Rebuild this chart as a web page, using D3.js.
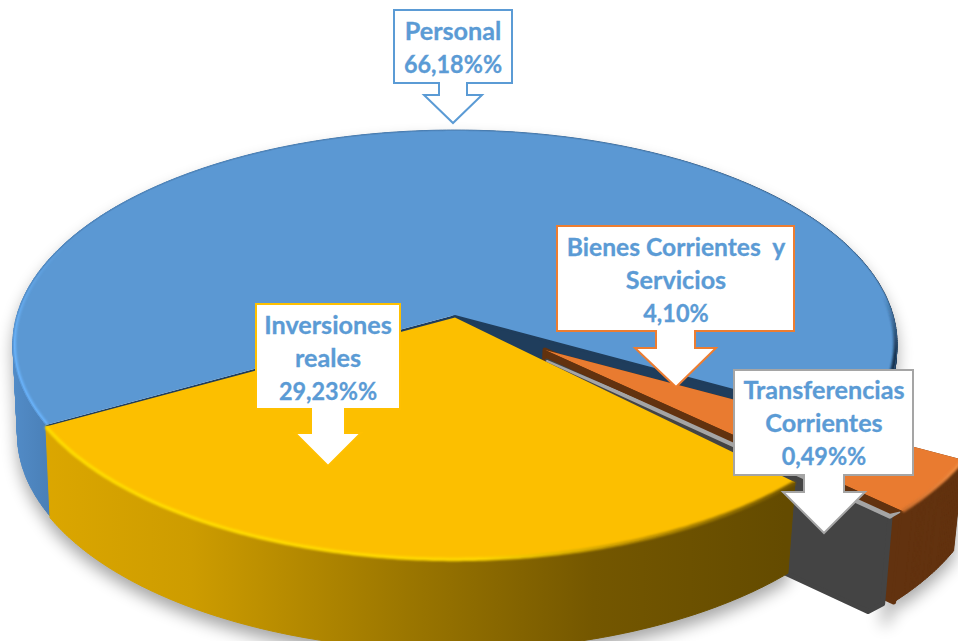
<!DOCTYPE html>
<html>
<head>
<meta charset="utf-8">
<script src="https://d3js.org/d3.v7.min.js"></script>
<style>
  html, body { margin: 0; padding: 0; background: #fff; overflow: hidden; }
  svg { display: block; }
  text { font-family: Lato, "Open Sans", sans-serif; font-weight: 700; }
</style>
</head>
<body>
<div id="chart"></div>
<script>
const F_WIDTH = 958;
const F_HEIGHT = 641;

// chart data
const CATEGORIES = ["Personal", "Bienes Corrientes y Servicios", "Transferencias Corrientes", "Inversiones reales"];
const VALUES = [66.18, 4.10, 0.49, 29.23];
const LABEL_LINES = [
  ["Personal", "66,18%%"],
  ["Bienes Corrientes\u00a0 y", "Servicios", "4,10%"],
  ["Transferencias", "Corrientes", "0,49%%"],
  ["Inversiones", "reales", "29,23%%"]
];

// colours
const TOP_COLORS = ["#5b98d3", "#e97b30", "#a5a5a5", "#fcbf00"];
const CUT_COLORS = ["#1f3d5c", "#62320f", "#444444", "#644b00"];
const BOX_COLORS = ["#5b9bd5", "#ed7d31", "#a5a5a5", "#ffc000"];

// perspective of the pie plane
const CX = 455, CY = 315, AX = 438, BY = 210, PERSP = 0.1355;
const DEPTH = 91, DEPTH_SCALE = 0.985, DEPTH_SHIFT = -2;
const START_ANGLE = 240.7 * Math.PI / 180;

// how far each slice is pulled out, [dx, dy], for the apex and for the rim
const EXPLODE = [
  {apex: [0, 0], rim: [0, 0], extra: 0},
  {apex: [90, 35], rim: [98, 36], extra: 0},
  {apex: [92, 46], rim: [95, 37], extra: 9},
  {apex: [0, 2.5], rim: [0, 1.5], extra: 0}
];

// callouts: box, stem, arrow
const CALLOUTS = [
  {x0: 394, x1: 512, y0: 10, y1: 83, s0: 439, s1: 467, wy: 95, w0: 424, w1: 482, tip: 123, cx: 453, base: [40, 73]},
  {x0: 557, x1: 794, y0: 226, y1: 331, s0: 656, s1: 695, wy: 348, w0: 635, w1: 716, tip: 387, cx: 676, base: [256, 289, 322]},
  {x0: 734, x1: 913, y0: 370, y1: 475, s0: 804, s1: 844, wy: 492, w0: 783, w1: 865, tip: 533, cx: 824, base: [399, 432, 465]},
  {x0: 256, x1: 400, y0: 304, y1: 409, s0: 311, s1: 345, wy: 433, w0: 295, w1: 361, tip: 466, cx: 328, base: [334, 367, 400]}
];

const FRAME = d3.select("#chart")
  .append("svg")
    .attr("width", F_WIDTH)
    .attr("height", F_HEIGHT);

const defs = FRAME.append("defs");

function blur(id, dev) {
  defs.append("filter")
      .attr("id", id)
      .attr("x", "-10%").attr("y", "-10%")
      .attr("width", "120%").attr("height", "130%")
    .append("feGaussianBlur")
      .attr("stdDeviation", dev);
}
blur("soft", 1.3);
blur("shadow", 8);

function gradient(id, stops) {
  const g = defs.append("linearGradient")
      .attr("id", id)
      .attr("gradientUnits", "userSpaceOnUse")
      .attr("x1", 0).attr("x2", F_WIDTH)
      .attr("y1", 0).attr("y2", 0);
  stops.forEach((s) => {
    g.append("stop").attr("offset", s[0]).attr("stop-color", s[1]);
  });
}
gradient("wallBlue", [[0, "#5590cd"], [0.05, "#4a80b8"], [0.6, "#3a6a9a"], [0.95, "#1f3d5c"]]);
gradient("wallYellow", [[0.04, "#dca700"], [0.2, "#cd9c00"], [0.42, "#9c7700"], [0.62, "#745700"], [0.82, "#644b00"]]);
gradient("rimYellow", [[0.04, "#ffdc00"], [0.5, "#ffd800"], [0.65, "#c89a00"], [0.82, "#7a5c00"]]);
gradient("rimOrange", [[0.9, "#b45c20"], [1, "#f08a40"]]);

// blue rim only shows low on the sides, so fade it in going down
function fade(id, color, y0, y1) {
  const g = defs.append("linearGradient")
      .attr("id", id)
      .attr("gradientUnits", "userSpaceOnUse")
      .attr("x1", 0).attr("x2", 0)
      .attr("y1", y0).attr("y2", y1);
  g.append("stop").attr("offset", 0).attr("stop-color", color).attr("stop-opacity", 0);
  g.append("stop").attr("offset", 1).attr("stop-color", color).attr("stop-opacity", 1);
}
fade("rimBlueLeft", "#6ab4fc", 240, 345);
fade("rimBlueRight", "#17324e", 295, 355);

// pie angles, order kept as in the data
const pie = d3.pie()
  .sort(null)
  .startAngle(START_ANGLE)
  .endAngle(START_ANGLE + 2 * Math.PI);
const arcs = pie(VALUES);

const line = d3.line();

// angle on the pie -> point on the page
function project(a, r) {
  const u = r * Math.sin(a);
  const v = -r * Math.cos(a);
  const w = 1 - PERSP * v;
  return [CX + AX * u / w, CY + BY * v / w];
}

function shift(p, d) {
  return [p[0] + d[0], p[1] + d[1]];
}

// same point on the underside of the slab
function lower(p, extra) {
  return [CX + (p[0] - CX) * DEPTH_SCALE + DEPTH_SHIFT, p[1] + DEPTH + (extra || 0)];
}

const slices = arcs.map((d, i) => {
  const step = 0.01;
  const angles = d3.range(d.startAngle, d.endAngle, step).concat([d.endAngle]);
  const rim = angles.map((a) => shift(project(a, 1), EXPLODE[i].rim));
  const apex = shift([CX, CY], EXPLODE[i].apex);
  return {i: i, rim: rim, apex: apex, extra: EXPLODE[i].extra};
});

// swept side of the slab, one quad per rim segment, all wound the same way
function outerWall(s) {
  let path = "";
  for (let k = 0; k < s.rim.length - 1; k++) {
    const a = s.rim[k], b = s.rim[k + 1];
    const quad = [a, b, lower(b, s.extra), lower(a, s.extra)];
    if (d3.polygonArea(quad) < 0) quad.reverse();
    path += line(quad) + "Z";
  }
  return path;
}
function cutWall(s, p) {
  return line([s.apex, p, lower(p, s.extra), lower(s.apex, s.extra)]) + "Z";
}
function topFace(s) {
  return line([s.apex].concat(s.rim)) + "Z";
}
function rimLine(s) {
  return line(s.rim);
}

// shadow on the ground
FRAME.append("g")
    .attr("filter", "url(#shadow)")
    .attr("opacity", 0.35)
    .attr("transform", "translate(0,9)")
  .selectAll("path")
  .data(slices)
  .enter()
  .append("path")
    .attr("d", outerWall)
    .attr("fill", "#000");

const PIE = FRAME.append("g");

function drawSlice(i, wallFill, rimStroke, hasCuts) {
  const s = slices[i];
  const first = s.rim[0];
  const last = s.rim[s.rim.length - 1];

  if (hasCuts) {
    PIE.append("path").attr("d", cutWall(s, first)).attr("fill", CUT_COLORS[i]);
    PIE.append("path").attr("d", cutWall(s, last))
        .attr("fill", CUT_COLORS[i])
        .attr("stroke", CUT_COLORS[i])
        .attr("stroke-width", 5)
        .attr("stroke-linejoin", "round");
  }
  PIE.append("path").attr("d", outerWall(s))
      .attr("fill", wallFill)
      .attr("stroke", wallFill)
      .attr("stroke-width", 1)
      .attr("stroke-linejoin", "round");
  PIE.append("path").attr("d", topFace(s)).attr("fill", TOP_COLORS[i]);
  if (rimStroke) {
    PIE.append("path").attr("d", rimLine(s))
        .attr("fill", "none")
        .attr("stroke", rimStroke)
        .attr("stroke-width", 3.5)
        .attr("filter", "url(#soft)");
  }
}

drawSlice(0, "url(#wallBlue)", null, true);

// blue rim: clipped to the top face, light on the left and dark on the right
defs.append("clipPath").attr("id", "blueTop")
  .append("path").attr("d", topFace(slices[0]));
const blueRim = PIE.append("g").attr("clip-path", "url(#blueTop)");
blueRim.append("path")
    .attr("d", line(slices[0].rim.filter((p) => p[0] < CX)))
    .attr("fill", "none")
    .attr("stroke", "url(#rimBlueLeft)")
    .attr("stroke-width", 6)
    .attr("filter", "url(#soft)");
blueRim.append("path")
    .attr("d", line(slices[0].rim.filter((p) => p[0] > CX)))
    .attr("fill", "none")
    .attr("stroke", "url(#rimBlueRight)")
    .attr("stroke-width", 7)
    .attr("filter", "url(#soft)");
blueRim.append("path")
    .attr("d", rimLine(slices[0]))
    .attr("fill", "none")
    .attr("stroke", "#2f4f70")
    .attr("stroke-opacity", 0.22)
    .attr("stroke-width", 2);

drawSlice(1, CUT_COLORS[1], "url(#rimOrange)", true);

// grey slice: only its cut face and top show, and the low corner is chamfered
const grey = slices[2];
const greyLast = grey.rim[grey.rim.length - 1];
const greyLow = lower(greyLast, grey.extra);
const greyLowApex = lower(grey.apex, grey.extra);
const lerp = (a, b, t) => [a[0] + (b[0] - a[0]) * t, a[1] + (b[1] - a[1]) * t];
PIE.append("path")
    .attr("d", line([grey.apex, greyLast, lerp(greyLow, greyLast, 0.14), lerp(greyLow, greyLowApex, 0.04), greyLowApex]) + "Z")
    .attr("fill", CUT_COLORS[2])
    .attr("stroke", CUT_COLORS[2])
    .attr("stroke-width", 5)
    .attr("stroke-linejoin", "round");
PIE.append("path")
    .attr("d", topFace(grey))
    .attr("fill", TOP_COLORS[2])
    .attr("stroke", TOP_COLORS[2])
    .attr("stroke-width", 2)
    .attr("stroke-linejoin", "round");

// the orange cut face hides most of the grey top, leaving a thin line
const orange = slices[1];
const orangeLast = orange.rim[orange.rim.length - 1];
PIE.append("path")
    .attr("d", line([orange.apex, orangeLast, shift(greyLast, [0, -4]), shift(grey.apex, [0, -3])]) + "Z")
    .attr("fill", CUT_COLORS[1]);

drawSlice(3, "url(#wallYellow)", "url(#rimYellow)", false);

// callouts
const boxes = FRAME.append("g")
  .selectAll("g")
  .data(CALLOUTS)
  .enter()
  .append("g");

boxes.append("path")
    .attr("d", (c) => line([
      [c.x0, c.y0], [c.x1, c.y0], [c.x1, c.y1], [c.s1, c.y1], [c.s1, c.wy], [c.w1, c.wy],
      [c.cx, c.tip], [c.w0, c.wy], [c.s0, c.wy], [c.s0, c.y1], [c.x0, c.y1]
    ]) + "Z")
    .attr("fill", "#fff")
    .attr("stroke", (c, i) => BOX_COLORS[i])
    .attr("stroke-width", 2);

boxes.each(function(c, i) {
  d3.select(this).selectAll("text")
    .data(LABEL_LINES[i])
    .enter()
    .append("text")
      .attr("x", c.cx)
      .attr("y", (t, j) => c.base[j])
      .attr("text-anchor", "middle")
      .attr("font-size", 25.2)
      .attr("fill", "#5b9bd5")
      .attr("stroke", "#5b9bd5")
      .attr("stroke-width", 0.3)
      .text((t) => t)
      .each(function(t) {
        // Lato digits run wider than the original face, squeeze those lines
        const squeeze = /\d/.test(t) ? 0.93 : (t.includes("\u00a0") ? 0.978 : 1);
        if (squeeze < 1) {
          d3.select(this)
            .attr("textLength", this.getComputedTextLength() * squeeze)
            .attr("lengthAdjust", "spacingAndGlyphs");
        }
      });
});
</script>
</body>
</html>
